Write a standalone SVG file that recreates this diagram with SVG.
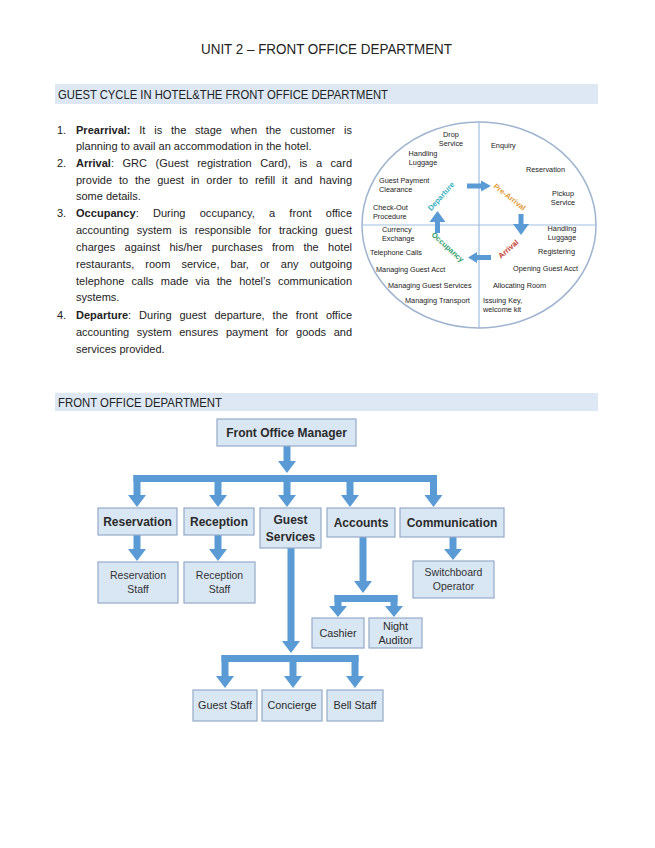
<svg xmlns="http://www.w3.org/2000/svg" width="655" height="848" viewBox="0 0 655 848">
<style>
text{font-family:"Liberation Sans",Arial,sans-serif;fill:#222}
.title{font-size:15px}
.band{fill:#dde8f4}
.bandt{font-size:13.5px}
.body{font-size:11px}
.b{font-weight:bold}
.cy{font-size:7.3px;fill:#333}
.lab{font-size:7.5px;font-weight:bold}
.box{fill:#d9e6f3;stroke:#93abc8;stroke-width:1.2}
.t1{font-size:12px;font-weight:bold;text-anchor:middle;fill:#2b2b2b}
.t2{font-size:10.5px;text-anchor:middle;fill:#333}
.t3{font-size:10.8px;text-anchor:middle;fill:#2b2b2b}
.arr{fill:#5b9bd5}
.ring{fill:none;stroke:#9fb4cf;stroke-width:1.5}
.axis{stroke:#9fbfe0;stroke-width:1.2}
</style>

<rect width="655" height="848" fill="#ffffff"/>

<g id="header">
<text class="title" x="201" y="54" textLength="251" lengthAdjust="spacingAndGlyphs">UNIT 2 – FRONT OFFICE DEPARTMENT</text>
<rect class="band" x="55" y="84" width="543" height="20"/>
<text class="bandt" x="58" y="99" textLength="330" lengthAdjust="spacingAndGlyphs">GUEST CYCLE IN HOTEL&amp;THE FRONT OFFICE DEPARTMENT</text>
<rect class="band" x="55" y="393" width="543" height="18"/>
<text class="bandt" x="58" y="407" textLength="164" lengthAdjust="spacingAndGlyphs">FRONT OFFICE DEPARTMENT</text>
</g>

<g id="list">
<text class="body" x="57" y="134">1.</text>
<text class="body" x="76" y="134" word-spacing="5.7" textLength="276" lengthAdjust="spacing"><tspan class="b">Prearrival:</tspan> It is the stage when the customer is</text>
<text class="body" x="76" y="150">planning to avail an accommodation in the hotel.</text>
<text class="body" x="57" y="167">2.</text>
<text class="body" x="76" y="167" word-spacing="5.5" textLength="276" lengthAdjust="spacing"><tspan class="b">Arrival</tspan>: GRC (Guest registration Card), is a card</text>
<text class="body" x="76" y="184" word-spacing="3.8" textLength="276" lengthAdjust="spacing">provide to the guest in order to refill it and having</text>
<text class="body" x="76" y="200">some details.</text>
<text class="body" x="57" y="217">3.</text>
<text class="body" x="76" y="217" word-spacing="11.1" textLength="276" lengthAdjust="spacing"><tspan class="b">Occupancy</tspan>: During occupancy, a front office</text>
<text class="body" x="76" y="234" word-spacing="4.5" textLength="276" lengthAdjust="spacing">accounting system is responsible for tracking guest</text>
<text class="body" x="76" y="251" word-spacing="6.3" textLength="276" lengthAdjust="spacing">charges against his/her purchases from the hotel</text>
<text class="body" x="76" y="268" word-spacing="8" textLength="276" lengthAdjust="spacing">restaurants, room service, bar, or any outgoing</text>
<text class="body" x="76" y="285" word-spacing="4.1" textLength="276" lengthAdjust="spacing">telephone calls made via the hotel’s communication</text>
<text class="body" x="76" y="301">systems.</text>
<text class="body" x="57" y="319">4.</text>
<text class="body" x="76" y="319" word-spacing="4.9" textLength="276" lengthAdjust="spacing"><tspan class="b">Departure</tspan>: During guest departure, the front office</text>
<text class="body" x="76" y="336" word-spacing="4.5" textLength="276" lengthAdjust="spacing">accounting system ensures payment for goods and</text>
<text class="body" x="76" y="353">services provided.</text>
</g>

<g id="guest-cycle">
<ellipse class="ring" cx="479" cy="225" rx="117" ry="103"/>
<line class="axis" x1="479" y1="122" x2="479" y2="328"/>
<line class="axis" x1="362" y1="225" x2="596" y2="225"/>
<g class="cy">
<text x="451" y="137" text-anchor="middle">Drop</text>
<text x="451" y="146" text-anchor="middle">Service</text>
<text x="423" y="156" text-anchor="middle">Handling</text>
<text x="423" y="165" text-anchor="middle">Luggage</text>
<text x="379" y="183">Guest Payment</text>
<text x="379" y="192">Clearance</text>
<text x="373" y="210">Check-Out</text>
<text x="373" y="219">Procedure</text>
<text x="491" y="148">Enquiry</text>
<text x="526" y="172">Reservation</text>
<text x="563" y="196" text-anchor="middle">Pickup</text>
<text x="563" y="205" text-anchor="middle">Service</text>
<text x="382" y="232">Currency</text>
<text x="382" y="241">Exchange</text>
<text x="370" y="255">Telephone Calls</text>
<text x="376" y="272">Managing Guest Acct</text>
<text x="388" y="288">Managing Guest Services</text>
<text x="405" y="303">Managing Transport</text>
<text x="562" y="231" text-anchor="middle">Handling</text>
<text x="562" y="240" text-anchor="middle">Luggage</text>
<text x="575" y="254" text-anchor="end">Registering</text>
<text x="578" y="271" text-anchor="end">Opening Guest Acct</text>
<text x="493" y="288">Allocating Room</text>
<text x="483" y="303">Issuing Key,</text>
<text x="483" y="312">welcome kit</text>
</g>
<g class="arr">
<polygon points="467,183.5 481,183.5 481,180.5 491,186 481,191.5 481,188.5 467,188.5"/>
<polygon points="518.5,214 523.5,214 523.5,224 529,224 521,235 513,224 518.5,224"/>
<polygon points="491,255 477,255 477,252 468,257.5 477,263 477,260 491,260"/>
<polygon points="435,233 440,233 440,222 445.5,222 437.5,211 429.5,222 435,222"/>
</g>
<text class="lab" x="0" y="0" text-anchor="middle" style="fill:#38b0c2" transform="translate(443,198) rotate(-48)">Departure</text>
<text class="lab" x="0" y="0" text-anchor="middle" style="fill:#e39a36" transform="translate(508,199) rotate(38)">Pre-Arrival</text>
<text class="lab" x="0" y="0" text-anchor="middle" style="fill:#c0392b" transform="translate(510,251) rotate(-41)">Arrival</text>
<text class="lab" x="0" y="0" text-anchor="middle" style="fill:#2e9b6b" transform="translate(446,249) rotate(42)">Occupancy</text>
</g>

<g id="connectors" class="arr">
<polygon points="283.5,446 290.5,446 290.5,461 296,461 287,473 278,461 283.5,461"/>
<rect x="133.5" y="475" width="303.5" height="7"/>
<polygon points="133.5,475 140.5,475 140.5,495 146,495 137,507 128,495 133.5,495"/>
<polygon points="214.5,475 221.5,475 221.5,495 227,495 218,507 209,495 214.5,495"/>
<polygon points="283.5,475 290.5,475 290.5,495 296,495 287,507 278,495 283.5,495"/>
<polygon points="346.5,475 353.5,475 353.5,495 359,495 350,507 341,495 346.5,495"/>
<polygon points="430,475 437,475 437,495 442.5,495 433.5,507 424.5,495 430,495"/>
<polygon points="133.5,535 140.5,535 140.5,549 146,549 137,561 128,549 133.5,549"/>
<polygon points="214.5,535 221.5,535 221.5,549 227,549 218,561 209,549 214.5,549"/>
<polygon points="449.5,537 456.5,537 456.5,549 462,549 453,560 444,549 449.5,549"/>
<polygon points="359.5,537 366.5,537 366.5,581 372,581 363,593 354,581 359.5,581"/>
<rect x="334.5" y="595" width="63" height="7"/>
<polygon points="334.5,595 341.5,595 341.5,606 347,606 338,617 329,606 334.5,606"/>
<polygon points="390.5,595 397.5,595 397.5,606 403,606 394,617 385,606 390.5,606"/>
<polygon points="287.5,548 294.5,548 294.5,641 300,641 291,653 282,641 287.5,641"/>
<rect x="221.5" y="655" width="137" height="7"/>
<polygon points="221.5,655 228.5,655 228.5,676 234,676 225,688 216,676 221.5,676"/>
<polygon points="289.5,655 296.5,655 296.5,676 302,676 293,688 284,676 289.5,676"/>
<polygon points="351.5,655 358.5,655 358.5,676 364,676 355,688 346,676 351.5,676"/>
</g>

<g id="front-office-manager"><rect class="box" x="217" y="419" width="139" height="27"/><text class="t1" x="286.5" y="437">Front Office Manager</text></g>
<g id="reservation"><rect class="box" x="98" y="508" width="79" height="27"/><text class="t1" x="137.5" y="526">Reservation</text></g>
<g id="reception"><rect class="box" x="184" y="508" width="70" height="27"/><text class="t1" x="219" y="526">Reception</text></g>
<g id="guest-services"><rect class="box" x="260" y="508" width="61" height="40"/><text class="t1" x="290.5" y="524">Guest</text><text class="t1" x="290.5" y="541">Services</text></g>
<g id="accounts"><rect class="box" x="327" y="508" width="68" height="29"/><text class="t1" x="361" y="527">Accounts</text></g>
<g id="communication"><rect class="box" x="400" y="508" width="104" height="29"/><text class="t1" x="452" y="527">Communication</text></g>
<g id="reservation-staff"><rect class="box" x="98" y="562" width="80" height="41"/><text class="t2" x="138" y="579">Reservation</text><text class="t2" x="138" y="593">Staff</text></g>
<g id="reception-staff"><rect class="box" x="184" y="562" width="71" height="41"/><text class="t2" x="219.5" y="579">Reception</text><text class="t2" x="219.5" y="593">Staff</text></g>
<g id="switchboard-operator"><rect class="box" x="413" y="561" width="81" height="37"/><text class="t2" x="453.5" y="576">Switchboard</text><text class="t2" x="453.5" y="590">Operator</text></g>
<g id="cashier"><rect class="box" x="312" y="618" width="52" height="30"/><text class="t3" x="338" y="637">Cashier</text></g>
<g id="night-auditor"><rect class="box" x="369" y="618" width="53" height="30"/><text class="t3" x="395.5" y="630">Night</text><text class="t3" x="395.5" y="644">Auditor</text></g>
<g id="guest-staff"><rect class="box" x="193" y="690" width="64" height="31"/><text class="t3" x="225" y="709">Guest Staff</text></g>
<g id="concierge"><rect class="box" x="262" y="690" width="60" height="31"/><text class="t3" x="292" y="709">Concierge</text></g>
<g id="bell-staff"><rect class="box" x="327" y="690" width="56" height="31"/><text class="t3" x="355" y="709">Bell Staff</text></g>
</svg>
